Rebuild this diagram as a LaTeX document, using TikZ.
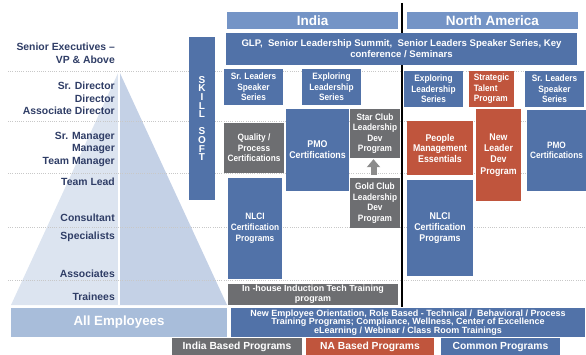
\documentclass[tikz,border=0pt]{standalone}
\usepackage{fontspec}
\setmainfont{Liberation Sans}
\newfontfamily\narrowfont[FakeStretch=0.9]{Liberation Sans}
\usepackage{tikz}
\usetikzlibrary{arrows.meta,positioning}
\definecolor{commonblue}{RGB}{81,114,168}
\definecolor{headblue}{RGB}{116,148,198}
\definecolor{indiagray}{RGB}{109,110,113}
\definecolor{naorange}{RGB}{192,85,61}
\definecolor{allblue}{RGB}{168,189,218}
\definecolor{pyrleft}{RGB}{220,228,240}
\definecolor{pyrright}{RGB}{196,209,230}
\definecolor{navy}{RGB}{47,61,102}
\definecolor{dotgray}{RGB}{200,200,200}
\definecolor{arrowgray}{RGB}{140,140,140}

\begin{document}
\begin{tikzpicture}[x=1pt,y=-1pt,
  prog/.style={inner sep=0pt,text=white,align=center,font=\narrowfont\fontsize{9.2}{10.5}\selectfont\bfseries},
  common box/.style={prog,fill=commonblue},
  india box/.style={prog,fill=indiagray},
  na box/.style={prog,fill=naorange},
  head box/.style={prog,fill=headblue,font=\fontsize{13.5}{14}\selectfont\bfseries},
  legend box/.style={prog,font=\fontsize{10.3}{12}\selectfont\bfseries},
  level/.style={anchor=east,align=right,inner sep=0pt,text=navy,font=\fontsize{10.4}{12.5}\selectfont\bfseries},
  guide/.style={dotgray,line width=0.7pt,dash pattern=on 1pt off 1.2pt}]
\useasboundingbox (0,0) rectangle (586,355);

\fill[pyrleft] (119,71) -- (11,305) -- (119,305) -- cycle;
\fill[pyrright] (119,71) -- (227,305) -- (119,305) -- cycle;
\draw[white,line width=1.5pt] (119,71) -- (119,305);
\foreach \y in {71,121,173,227,280}
  \draw[guide] (8,\y) -- (586,\y);
\draw[black,line width=1.3pt] (402,3) -- (402,307);

\node[level] (lvSen) at (115,53.5) {Senior Executives –\\VP \& Above};
\node[level] (lvDir) at (115,98.5) {Sr. Director\\Director\\Associate Director};
\node[level] (lvMgr) at (115,149) {Sr. Manager\\Manager\\Team Manager};
\node[level] (lvLead) at (115,182) {Team Lead};
\node[level] (lvCons) at (115,218) {Consultant};
\node[level] (lvSpec) at (115,237) {Specialists};
\node[level] (lvAsso) at (115,274) {Associates};
\node[level] (lvTrain) at (115,297) {Trainees};
\node[prog,fill=allblue,minimum width=216pt,minimum height=29pt,font=\fontsize{13.3}{14}\selectfont\bfseries] (allEmp) at (119,322.5) {All Employees};

\node[common box,minimum width=26pt,minimum height=163pt,font=\fontsize{10}{8.6}\selectfont\bfseries] (skill) at (202,118.5) {S\\K\\I\\L\\L\\[8.6pt]S\\O\\F\\T};

\node[head box,minimum width=171pt,minimum height=17pt] (india) at (312.5,20.5) {India};
\node[head box,minimum width=171pt,minimum height=17pt] (namer) at (492.5,20.5) {North America};
\node[common box,minimum width=351pt,minimum height=32pt,font=\fontsize{9.6}{11}\selectfont\bfseries] (glp) at (401.5,49) {GLP,\ \ Senior Leadership Summit,\ \ Senior Leaders Speaker Series, Key\\conference / Seminars};

\node[common box,minimum width=59pt,minimum height=36pt] (inSpk) at (253.5,87) {Sr. Leaders\\Speaker\\Series};
\node[common box,minimum width=59pt,minimum height=36pt] (inExp) at (331.5,87) {Exploring\\Leadership\\Series};
\node[common box,minimum width=59pt,minimum height=36pt] (naExp) at (433.5,89) {Exploring\\Leadership\\Series};
\node[na box,minimum width=45pt,minimum height=36pt,align=left] (naTal) at (491.5,89) {Strategic\\Talent\\Program};
\node[common box,minimum width=59pt,minimum height=36pt] (naSpk) at (554.5,89) {Sr. Leaders\\Speaker\\Series};

\node[india box,minimum width=60pt,minimum height=50pt] (quality) at (254,148) {Quality /\\Process\\Certifications};
\node[common box,minimum width=63pt,minimum height=82pt,font=\narrowfont\fontsize{9.8}{11}\selectfont\bfseries] (inPmo) at (317.5,150) {PMO\\Certifications};
\node[india box,minimum width=50pt,minimum height=49pt] (star) at (375,133.5) {Star Club\\Leadership\\Dev\\Program};
\node[india box,minimum width=50pt,minimum height=50pt] (gold) at (375,203) {Gold Club\\Leadership\\Dev\\Program};
\node[na box,minimum width=66pt,minimum height=54pt,font=\narrowfont\fontsize{9.8}{10.5}\selectfont\bfseries] (people) at (440,148) {People\\Management\\Essentials};
\node[na box,minimum width=45pt,minimum height=92pt,font=\narrowfont\fontsize{9.8}{11.2}\selectfont\bfseries] (newLead) at (498.5,155) {New\\Leader\\Dev\\Program};
\node[common box,minimum width=59pt,minimum height=81pt] (naPmo) at (556.5,150.5) {PMO\\Certifications};

\node[common box,minimum width=54pt,minimum height=101pt,font=\narrowfont\fontsize{9.2}{11}\selectfont\bfseries] (inNlci) at (255,228.5) {NLCI\\Certification\\Programs};
\node[common box,minimum width=66pt,minimum height=96pt,font=\narrowfont\fontsize{9.8}{11}\selectfont\bfseries] (naNlci) at (440,228) {NLCI\\Certification\\Programs};

\node[india box,minimum width=170pt,minimum height=21pt,font=\fontsize{8.9}{10}\selectfont\bfseries] (induct) at (313,294.5) {In -house Induction Tech Training\\program};
\node[common box,minimum width=354pt,minimum height=29pt,font=\fontsize{9}{8.5}\selectfont\bfseries] (newEmp) at (408,322.5) {New Employee Orientation, Role Based - Technical /\ \ Behavioral / Process\\Training Programs; Compliance, Wellness, Center of Excellence\\eLearning / Webinar / Class Room Trainings};

\node[legend box,fill=indiagray,minimum width=130pt,minimum height=18pt] (legIndia) at (237,347) {India Based Programs};
\node[legend box,fill=naorange,minimum width=128pt,minimum height=17pt] (legNa) at (370,346.5) {NA Based Programs};
\node[legend box,fill=commonblue,minimum width=119pt,minimum height=17pt] (legCommon) at (500.5,346.5) {Common Programs};

\draw[arrowgray,line width=6pt,-{Triangle[width=13pt,length=8pt]},shorten <=3pt,shorten >=1pt] ([xshift=-1.5pt]gold.north) -- ([xshift=-1.5pt]star.south);
\end{tikzpicture}
\end{document}
